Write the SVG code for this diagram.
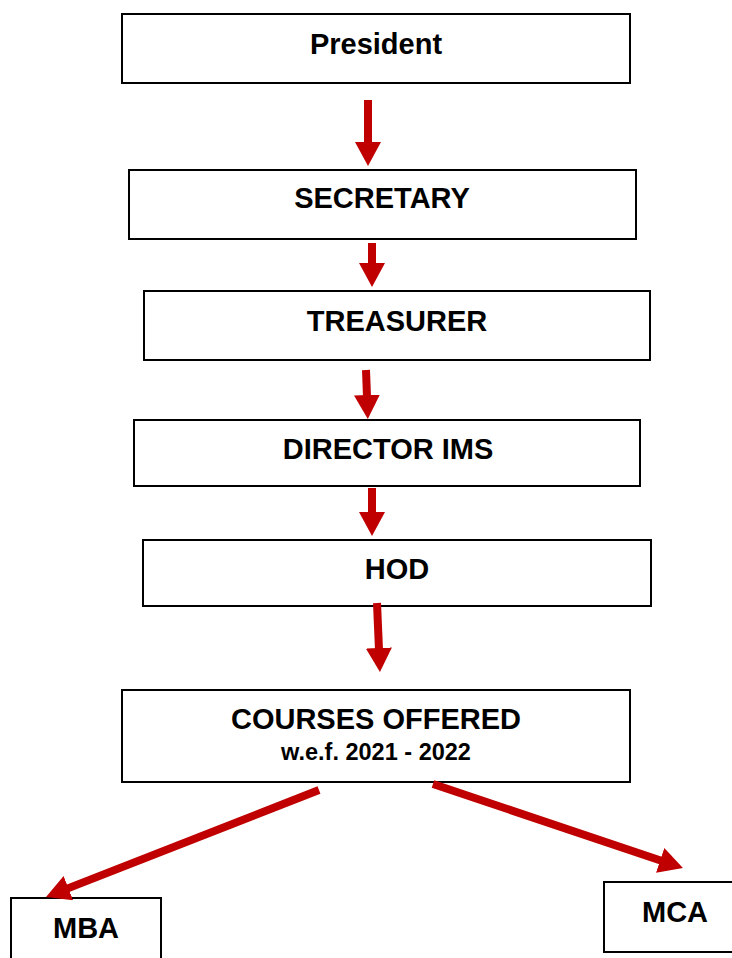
<svg xmlns="http://www.w3.org/2000/svg" width="732" height="958" viewBox="0 0 732 958">
<style>
.box{fill:#fff;stroke:#000;stroke-width:2}
.t{font-family:"Liberation Sans",Arial,sans-serif;font-weight:bold;font-size:29px;text-anchor:middle;fill:#000}
.s{font-size:23.5px}
.c{stroke:#C00000;stroke-width:8;fill:none;marker-end:url(#ah)}
</style>
<defs>
<marker id="ah" markerWidth="24" markerHeight="26" refX="2" refY="13" orient="auto" markerUnits="userSpaceOnUse">
<path d="M0,0 L24,13 L0,26 z" fill="#C00000"/>
</marker>
</defs>
<rect width="732" height="958" fill="#fff"/>
<g id="president"><rect class="box" x="122" y="14" width="508" height="69"/><text class="t" x="376" y="54">President</text></g>
<g id="secretary"><rect class="box" x="129" y="170" width="507" height="69"/><text class="t" x="382" y="208">SECRETARY</text></g>
<g id="treasurer"><rect class="box" x="144" y="291" width="506" height="69"/><text class="t" x="397" y="331">TREASURER</text></g>
<g id="director"><rect class="box" x="134" y="420" width="506" height="66"/><text class="t" x="388" y="459">DIRECTOR IMS</text></g>
<g id="hod"><rect class="box" x="143" y="540" width="508" height="66"/><text class="t" x="397" y="579">HOD</text></g>
<g id="courses"><rect class="box" x="122" y="690" width="508" height="92"/><text class="t" x="376" y="729">COURSES OFFERED</text><text class="t s" x="376" y="760">w.e.f. 2021 - 2022</text></g>
<g id="mba"><rect class="box" x="11" y="898" width="150" height="70"/><text class="t" x="86" y="938">MBA</text></g>
<g id="mca"><rect class="box" x="604" y="882" width="140" height="70"/><text class="t" x="675" y="922">MCA</text></g>
<g id="connectors">
<line class="c" x1="368" y1="100" x2="368" y2="144"/>
<line class="c" x1="372" y1="243" x2="372" y2="265"/>
<line class="c" x1="366" y1="370" x2="367" y2="397"/>
<line class="c" x1="372" y1="488" x2="372" y2="514"/>
<line class="c" x1="377" y1="603" x2="379" y2="650"/>
<line class="c" x1="319" y1="790" x2="66.5" y2="888.9"/>
<line class="c" x1="433" y1="784" x2="662.1" y2="861"/>
</g>
</svg>
